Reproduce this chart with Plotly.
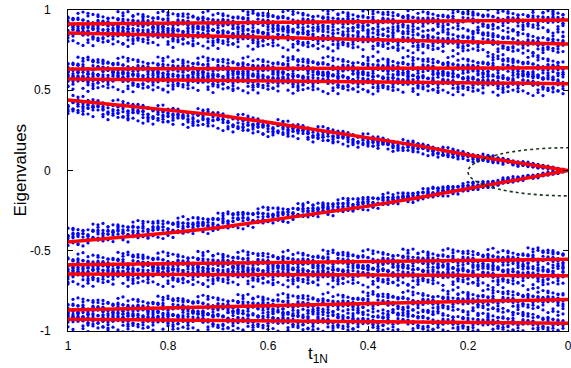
import numpy as np
import plotly.graph_objects as go

# ---- red lines (noise-free eigenvalues) ----
line_x = [1.0, 0.0]
outer_start = [0.913, 0.857, 0.632, 0.570, -0.587, -0.645, -0.869, -0.927]   # value at t=1
outer_end = [0.938, 0.788, 0.640, 0.541, -0.553, -0.655, -0.803, -0.952]     # value at t=0

center_x = [1.0, 0.9, 0.8, 0.7, 0.6, 0.5, 0.4, 0.3, 0.2, 0.1, 0.0]
center_upper = [0.44, 0.41, 0.375, 0.345, 0.30, 0.253, 0.206, 0.155, 0.097, 0.048, 0.0]
center_lower = [-0.446, -0.42, -0.39, -0.356, -0.312, -0.27, -0.222, -0.17, -0.112, -0.056, 0.0]

# ---- blue cloud (noisy eigenvalues) ----
sample_x = np.round(np.arange(100, 0, -1) / 100, 2)
realizations = 7
outer_spread = 0.036
center_spread_x = [1.0, 0.6, 0.4, 0.2, 0.1, 0.0]
center_spread = [0.032, 0.028, 0.022, 0.015, 0.009, 0.003]
center_shift = [0.035, 0.03, 0.022, 0.008, 0.003, 0.0]
jitter = [0.12, -1.31, 0.64, -0.27, 1.52, -0.88, 0.03, 0.95, -1.74, 0.41, -0.55,
          1.18, -0.09, 2.05, -1.12, 0.33, -0.41, 0.78, -2.10, 0.21, 1.36, -0.66,
          -0.15, 0.57, -1.45, 1.01, -0.34, 0.09, 1.83, -0.97, 0.46, -0.21, 0.71,
          -1.58, 1.24, -0.03, -0.79, 0.28, 1.61, -1.20, 0.87]

# ---- axes ----
x_tickvals = [1, 0.8, 0.6, 0.4, 0.2, 0]
x_ticktext = ["1", "0.8", "0.6", "0.4", "0.2", "0"]
y_tickvals = [-1, -0.5, 0, 0.5, 1]
y_ticktext = ["-1", "-0.5", "0", "0.5", "1"]

# ellipse region (data units)
ellipse_x = [0.2, -0.2]
ellipse_y = [-0.158, 0.142]

NJ = len(jitter)
bx, by = [], []
cx_inc = center_x[::-1]
sx_inc = center_spread_x[::-1]
for j, xv in enumerate(sample_x):
    k = 0
    for s, e in zip(outer_start, outer_end):
        base = s * xv + e * (1 - xv)
        for r in range(realizations):
            bx.append(xv)
            by.append(base + outer_spread * jitter[(j * 7 + k * 13 + r * 11) % NJ])
        k += 1
    sp = np.interp(xv, sx_inc, center_spread[::-1])
    sh = np.interp(xv, sx_inc, center_shift[::-1])
    for vals, sign in ((center_upper, 1), (center_lower, -1)):
        base = np.interp(xv, cx_inc, vals[::-1])
        for r in range(realizations):
            bx.append(xv)
            by.append(base - sign * sh + sp * jitter[(j * 7 + k * 13 + r * 11) % NJ])
        k += 1

fig = go.Figure()
fig.add_trace(go.Scatter(x=bx, y=by, mode="markers",
                         marker=dict(color="#0000ff", size=3.2, line=dict(width=0)),
                         hoverinfo="skip", showlegend=False))

for s, e in zip(outer_start, outer_end):
    fig.add_trace(go.Scatter(x=line_x, y=[s, e], mode="lines", hoverinfo="skip",
                             line=dict(color="#ff0000", width=3.5), showlegend=False))
for vals in (center_upper, center_lower):
    fig.add_trace(go.Scatter(x=center_x, y=vals, mode="lines", hoverinfo="skip",
                             line=dict(color="#ff0000", width=3.5), showlegend=False))

fig.add_shape(type="circle", xref="x", yref="y",
              x0=ellipse_x[0], x1=ellipse_x[1], y0=ellipse_y[0], y1=ellipse_y[1],
              line=dict(color="#1e321e", width=1.6, dash="dot"))

axis_common = dict(showline=True, linecolor="black", linewidth=1, mirror="ticks",
                   ticks="inside", ticklen=5, tickcolor="black", showgrid=False,
                   zeroline=False, automargin=False, ticklabeloverflow="allow",
                   tickfont=dict(family="Liberation Sans", size=12, color="black"))

fig.update_xaxes(range=[1, 0], tickvals=x_tickvals, ticktext=x_ticktext,
                 ticklabelstandoff=4, **axis_common)
fig.update_yaxes(range=[-1, 1], tickvals=y_tickvals, ticktext=y_ticktext,
                 ticklabelstandoff=14, **axis_common)

fig.add_annotation(text="Eigenvalues", xref="paper", yref="paper", x=-0.096, y=0.5,
                   xanchor="center", yanchor="middle",
                   textangle=-90, showarrow=False,
                   font=dict(family="Liberation Sans", size=17, color="black"))
fig.add_annotation(text="t<sub>1N</sub>", xref="x", yref="paper", x=0.5, y=-0.075,
                   xanchor="center", yanchor="middle", showarrow=False,
                   font=dict(family="Liberation Sans", size=17, color="black"))

fig.update_layout(width=571, height=368, margin=dict(l=68, r=3, t=10, b=37),
                  plot_bgcolor="white", paper_bgcolor="white", showlegend=False,
                  hovermode=False)

# remove the browser's default 8px page margin so the figure fills the window
fig.write_html("out.html", config={"displayModeBar": False},
               post_script="document.body.style.margin='0';"
                           "document.documentElement.style.overflow='hidden';")
